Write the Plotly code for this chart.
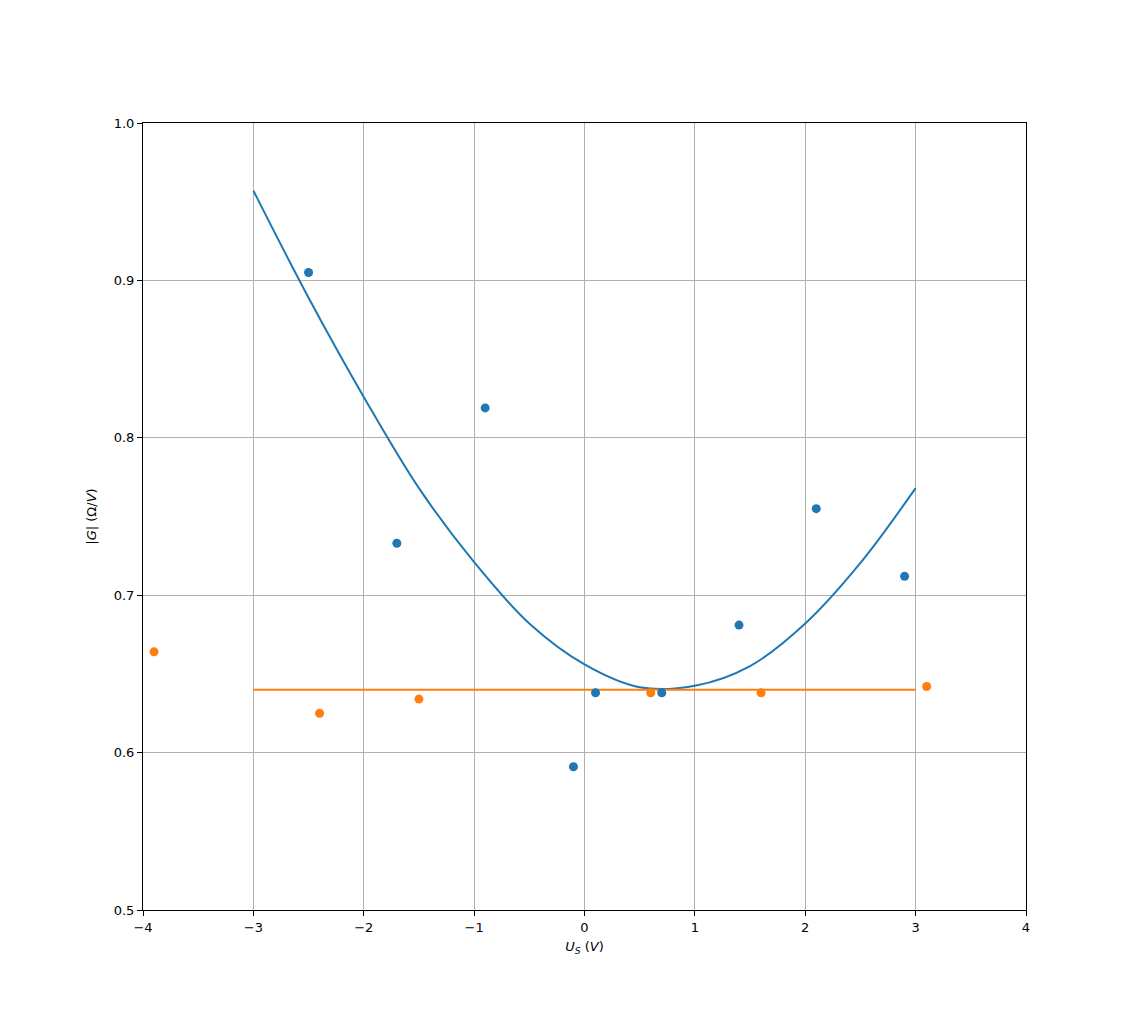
import plotly.graph_objects as go

# measured points
blue_x = [-2.5, -1.7, -0.9, -0.1, 0.1, 0.7, 1.4, 2.1, 2.9]
blue_y = [0.905, 0.733, 0.819, 0.591, 0.638, 0.638, 0.681, 0.755, 0.712]

orange_x = [-3.9, -2.4, -1.5, 0.6, 1.6, 3.1]
orange_y = [0.664, 0.625, 0.634, 0.638, 0.638, 0.642]

# fitted curves (every 0.5 V)
fit_x = [-3.0, -2.5, -2.0, -1.5, -1.0, -0.5, 0.0, 0.5, 1.0, 1.5, 2.0, 2.5, 3.0]
fit_y = [0.957, 0.889, 0.826, 0.768, 0.721, 0.682, 0.656, 0.6415, 0.6425,
         0.655, 0.682, 0.7205, 0.768]

const_x = [-3.0, 3.0]
const_y = [0.640, 0.640]

x_ticks = [-4, -3, -2, -1, 0, 1, 2, 3, 4]
y_ticks = [0.5, 0.6, 0.7, 0.8, 0.9, 1.0]

blue = '#1f77b4'
orange = '#ff7f0e'

fig = go.Figure()
fig.add_trace(go.Scatter(x=fit_x, y=fit_y, mode='lines', line_shape='spline',
                         line=dict(color=blue, width=2, smoothing=1.0),
                         showlegend=False))
fig.add_trace(go.Scatter(x=const_x, y=const_y, mode='lines',
                         line=dict(color=orange, width=2), showlegend=False))
fig.add_trace(go.Scatter(x=blue_x, y=blue_y, mode='markers',
                         marker=dict(color=blue, size=9), showlegend=False))
fig.add_trace(go.Scatter(x=orange_x, y=orange_y, mode='markers',
                         marker=dict(color=orange, size=9), showlegend=False))

axis_style = dict(
    showline=True, linecolor='black', linewidth=1, mirror=True,
    ticks='outside', ticklen=5, tickcolor='black', tickwidth=1,
    showgrid=True, gridcolor='#b0b0b0', gridwidth=1,
    zeroline=False, tickfont=dict(size=13, color='black'),
)

fig.update_layout(
    width=1140, height=1022,
    margin=dict(l=135, r=122, t=115, b=120),
    paper_bgcolor='white', plot_bgcolor='white',
    font=dict(family='DejaVu Sans', size=13, color='black'),
    xaxis=dict(range=[-4, 4], tickvals=x_ticks,
               title=dict(text='<i>U</i><sub><i>S</i></sub> (<i>V</i>)',
                          font=dict(size=13), standoff=8),
               **axis_style),
    yaxis=dict(range=[0.5, 1.0], tickvals=y_ticks, tickformat='.1f',
               title=dict(text='|<i>G</i>| (Ω/<i>V</i>)',
                          font=dict(size=13), standoff=14),
               **axis_style),
)

fig.write_html("out.html")
